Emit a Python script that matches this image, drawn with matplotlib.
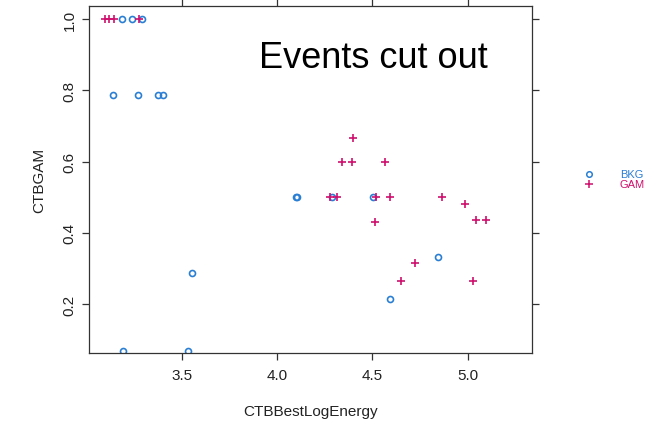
import matplotlib
matplotlib.use("Agg")
import matplotlib.pyplot as plt

plt.rcParams["font.family"] = ["Liberation Sans", "DejaVu Sans"]

# BKG events (circles)
bkg_x = [3.186, 3.241, 3.290, 3.142, 3.273, 3.377, 3.400,
         4.099, 4.104, 4.289, 4.501, 3.556, 4.843, 4.592, 3.191, 3.535]
bkg_y = [1.0, 1.0, 1.0, 0.786, 0.786, 0.786, 0.786,
         0.5, 0.5, 0.5, 0.5, 0.286, 0.333, 0.214, 0.0667, 0.0667]

# GAM events (crosses)
gam_x = [3.098, 3.120, 3.145, 3.278, 4.399, 4.342, 4.393, 4.564,
         4.277, 4.316, 4.517, 4.593, 4.864, 4.986, 5.044, 5.095,
         4.515, 4.721, 4.649, 5.028]
gam_y = [1.0, 1.0, 1.0, 1.0, 0.667, 0.6, 0.6, 0.6,
         0.5, 0.5, 0.5, 0.5, 0.5, 0.48, 0.435, 0.435,
         0.43, 0.316, 0.265, 0.265]

xticks = [3.5, 4.0, 4.5, 5.0]
yticks = [0.2, 0.4, 0.6, 0.8, 1.0]

blue = "#2a7fd4"
red = "#d0106e"

fig = plt.figure(figsize=(6.58, 4.27), dpi=100)
ax = fig.add_axes([0.1353, 0.171, 0.8090 - 0.1353, 0.983 - 0.171])

ax.plot(bkg_x, bkg_y, "o", ms=4.3, mfc="none", mec=blue, mew=1.2)
ax.plot(gam_x, gam_y, "+", ms=6, mec=red, mew=1.2)

ax.set_xlim(3.014, 5.338)
ax.set_ylim(0.0625, 1.036)
ax.set_xticks(xticks)
ax.set_xticklabels(["3.5", "4.0", "4.5", "5.0"])
ax.set_yticks(yticks)
ax.set_yticklabels(["0.2", "0.4", "0.6", "0.8", "1.0"], rotation=90, va="center")

ax.tick_params(direction="out", length=4.8, width=0.9, color="#333333",
               labelsize=11, top=True, right=True, labelcolor="#222222")
ax.tick_params(axis="x", pad=6)
ax.tick_params(axis="y", pad=4)
for s in ax.spines.values():
    s.set_color("#333333")
    s.set_linewidth(0.9)

ax.set_xlabel("CTBBestLogEnergy", fontsize=11, labelpad=16, color="#222222")
ax.set_ylabel("CTBGAM", fontsize=11, labelpad=12, color="#222222")

ax.text(0.641, 0.824, "Events cut out", transform=ax.transAxes, fontsize=26,
        ha="center", va="baseline")

# legend on the right
ax_leg_y1 = 1 - 175 / 427
ax_leg_y2 = 1 - 185 / 427
fig.lines.append(plt.Line2D([589.3 / 658], [ax_leg_y1], transform=fig.transFigure,
                            marker="o", ms=4, mfc="none", mec=blue, mew=1.1, ls="none"))
fig.lines.append(plt.Line2D([589.3 / 658], [ax_leg_y2], transform=fig.transFigure,
                            marker="+", ms=5.5, mec=red, mew=1.1, ls="none"))
fig.text(620 / 658, ax_leg_y1, "BKG", color=blue, fontsize=8,
         ha="left", va="center")
fig.text(620 / 658, ax_leg_y2, "GAM", color=red, fontsize=8,
         ha="left", va="center")

fig.savefig("out.png", dpi=100)
